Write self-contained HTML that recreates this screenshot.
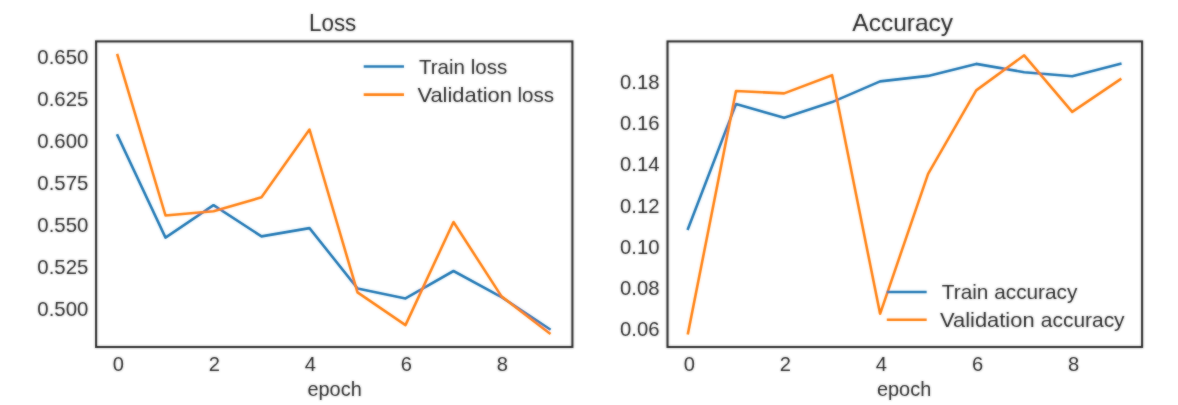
<!DOCTYPE html>
<html><head><meta charset="utf-8"><title>Loss / Accuracy</title>
<style>
html,body{margin:0;padding:0;background:#fff;}
body{width:1178px;height:405px;overflow:hidden;font-family:"Liberation Sans",sans-serif;}
svg{display:block;position:absolute;left:0;top:0;}
text{font-family:"Liberation Sans",sans-serif;fill:#262626;}
.t{font-size:20.4px;}
.ti{font-size:24px;}
.ln{fill:none;stroke-width:2.6;stroke-linejoin:round;stroke-linecap:square;}
.sp{fill:none;stroke:#262626;stroke-width:2.1;}
</style></head><body>
<svg width="1178" height="405" viewBox="0 0 1178 405">
<defs><filter id="fT" x="0" y="0" width="1178" height="405" filterUnits="userSpaceOnUse"><feGaussianBlur in="SourceGraphic" stdDeviation="0.9" result="b"/><feComposite in="SourceGraphic" in2="b" operator="arithmetic" k1="0" k2="0.5" k3="0.5" k4="0"/></filter><filter id="fS" x="0" y="0" width="1178" height="405" filterUnits="userSpaceOnUse"><feGaussianBlur in="SourceGraphic" stdDeviation="0.9" result="b"/><feComposite in="SourceGraphic" in2="b" operator="arithmetic" k1="0" k2="0.5" k3="0.5" k4="0"/></filter><filter id="fL" x="0" y="0" width="1178" height="405" filterUnits="userSpaceOnUse"><feGaussianBlur in="SourceGraphic" stdDeviation="0.9" result="b"/><feComposite in="SourceGraphic" in2="b" operator="arithmetic" k1="0" k2="0.55" k3="0.45" k4="0"/></filter></defs>
<rect x="0" y="0" width="1178" height="405" fill="#ffffff"/>
<g filter="url(#fS)">
<rect class="sp" x="96.1" y="41.4" width="476.3" height="305.6"/>
<rect class="sp" x="667.5" y="41.4" width="474.6" height="305.6"/>
</g>
<g filter="url(#fL)">
<polyline class="ln" stroke="#1f77b4" points="117.5,135.4 165.5,237.6 213.5,205.2 261.5,236.4 309.5,228.1 357.5,288.4 405.5,298.4 453.5,271.0 501.5,297.1 549.5,329.0"/>
<polyline class="ln" stroke="#ff7f0e" points="117.5,55.0 165.5,215.5 213.5,211.2 261.5,197.3 309.5,129.5 357.5,292.4 405.5,325.1 453.5,222.0 501.5,296.4 549.5,333.2"/>
<polyline class="ln" stroke="#1f77b4" points="688.0,228.8 736.0,104.0 784.1,117.8 832.1,102.1 880.1,81.4 928.1,75.9 976.2,63.9 1024.2,72.2 1072.2,76.3 1120.3,63.9"/>
<polyline class="ln" stroke="#ff7f0e" points="688.0,333.2 736.0,91.0 784.1,93.4 832.1,75.2 880.1,313.8 928.1,173.8 976.2,90.4 1024.2,55.3 1072.2,111.9 1120.3,79.3"/>
<line class="ln" stroke="#1f77b4" x1="365" y1="66.5" x2="402.7" y2="66.5"/>
<line class="ln" stroke="#ff7f0e" x1="365" y1="94.6" x2="402.7" y2="94.6"/>
<line class="ln" stroke="#1f77b4" x1="888.1" y1="292" x2="925.4" y2="292"/>
<line class="ln" stroke="#ff7f0e" x1="888.1" y1="319.8" x2="925.4" y2="319.8"/>
</g>
<g filter="url(#fT)">
<text class="ti" x="309.0" y="31.1" textLength="47.3" lengthAdjust="spacingAndGlyphs">Loss</text>
<text class="ti" x="852.3" y="31.1" textLength="100.8" lengthAdjust="spacingAndGlyphs">Accuracy</text>
<text class="t" x="37.3" y="64.4" textLength="51.0" lengthAdjust="spacingAndGlyphs">0.650</text>
<text class="t" x="37.3" y="106.3" textLength="51.0" lengthAdjust="spacingAndGlyphs">0.625</text>
<text class="t" x="37.3" y="148.2" textLength="51.0" lengthAdjust="spacingAndGlyphs">0.600</text>
<text class="t" x="37.3" y="190.1" textLength="51.0" lengthAdjust="spacingAndGlyphs">0.575</text>
<text class="t" x="37.3" y="232.0" textLength="51.0" lengthAdjust="spacingAndGlyphs">0.550</text>
<text class="t" x="37.3" y="273.9" textLength="51.0" lengthAdjust="spacingAndGlyphs">0.525</text>
<text class="t" x="37.3" y="315.8" textLength="51.0" lengthAdjust="spacingAndGlyphs">0.500</text>
<text class="t" x="620.0" y="88.8" textLength="39.4" lengthAdjust="spacingAndGlyphs">0.18</text>
<text class="t" x="620.0" y="130.1" textLength="39.4" lengthAdjust="spacingAndGlyphs">0.16</text>
<text class="t" x="620.0" y="171.3" textLength="39.4" lengthAdjust="spacingAndGlyphs">0.14</text>
<text class="t" x="620.0" y="212.6" textLength="39.4" lengthAdjust="spacingAndGlyphs">0.12</text>
<text class="t" x="620.0" y="253.8" textLength="39.4" lengthAdjust="spacingAndGlyphs">0.10</text>
<text class="t" x="620.0" y="295.1" textLength="39.4" lengthAdjust="spacingAndGlyphs">0.08</text>
<text class="t" x="620.0" y="336.3" textLength="39.4" lengthAdjust="spacingAndGlyphs">0.06</text>
<text class="t" x="112.7" y="370.8" textLength="11.2" lengthAdjust="spacingAndGlyphs">0</text>
<text class="t" x="683.7" y="370.8" textLength="11.2" lengthAdjust="spacingAndGlyphs">0</text>
<text class="t" x="208.7" y="370.8" textLength="11.2" lengthAdjust="spacingAndGlyphs">2</text>
<text class="t" x="779.8" y="370.8" textLength="11.2" lengthAdjust="spacingAndGlyphs">2</text>
<text class="t" x="304.7" y="370.8" textLength="11.2" lengthAdjust="spacingAndGlyphs">4</text>
<text class="t" x="875.8" y="370.8" textLength="11.2" lengthAdjust="spacingAndGlyphs">4</text>
<text class="t" x="400.7" y="370.8" textLength="11.2" lengthAdjust="spacingAndGlyphs">6</text>
<text class="t" x="971.9" y="370.8" textLength="11.2" lengthAdjust="spacingAndGlyphs">6</text>
<text class="t" x="496.7" y="370.8" textLength="11.2" lengthAdjust="spacingAndGlyphs">8</text>
<text class="t" x="1067.9" y="370.8" textLength="11.2" lengthAdjust="spacingAndGlyphs">8</text>
<text class="t" x="307.5" y="395.8" textLength="54.2" lengthAdjust="spacingAndGlyphs">epoch</text>
<text class="t" x="877.0" y="395.8" textLength="54.2" lengthAdjust="spacingAndGlyphs">epoch</text>
<text class="t" x="419.0" y="74.0" textLength="88.2" lengthAdjust="spacingAndGlyphs">Train loss</text>
<text class="t" x="417.4" y="101.8" textLength="94.6" lengthAdjust="spacingAndGlyphs">Validation</text>
<text class="t" x="517.4" y="101.8" textLength="36.7" lengthAdjust="spacingAndGlyphs">loss</text>
<text class="t" x="941.8" y="299.2" textLength="135.6" lengthAdjust="spacingAndGlyphs">Train accuracy</text>
<text class="t" x="940.0" y="327" textLength="94.6" lengthAdjust="spacingAndGlyphs">Validation</text>
<text class="t" x="1040.8" y="327" textLength="83.8" lengthAdjust="spacingAndGlyphs">accuracy</text>
</g>
</svg></body></html>
